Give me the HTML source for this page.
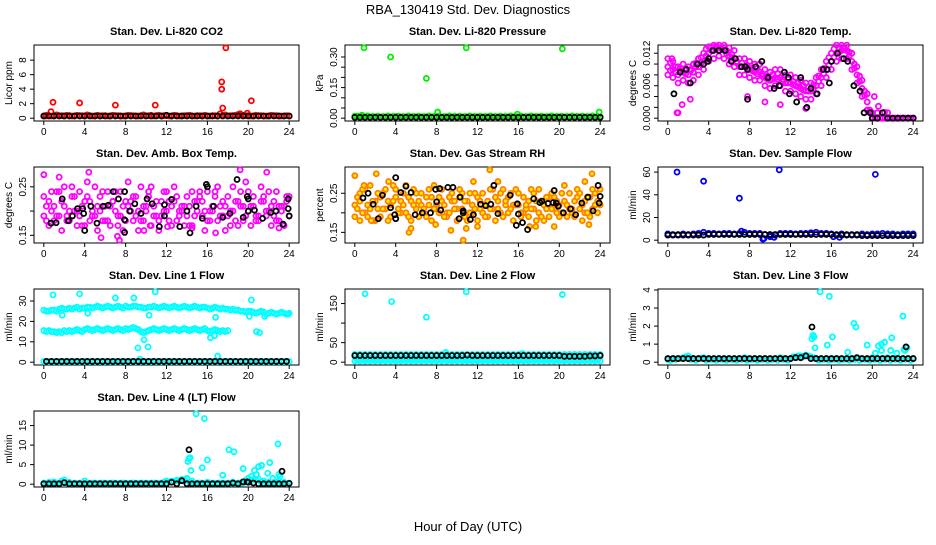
<!DOCTYPE html>
<html><head><meta charset="utf-8"><style>
body{margin:0;background:#fff;}
svg text{font-family:"Liberation Sans",sans-serif;}
</style></head><body>
<svg id="chart" width="936" height="540" xmlns="http://www.w3.org/2000/svg">
<rect width="936" height="540" fill="#fff"/>
<text x="468" y="14" font-size="13" text-anchor="middle">RBA_130419  Std. Dev. Diagnostics</text>
<text x="468" y="531" font-size="13" text-anchor="middle">Hour of Day (UTC)</text>
</svg>
<script>
const hours=[0,0.5,1,1.5,2,2.5,3,3.5,4,4.5,5,5.5,6,6.5,7,7.5,8,8.5,9,9.5,10,10.5,11,11.5,12,12.5,13,13.5,14,14.5,15,15.5,16,16.5,17,17.5,18,18.5,19,19.5,20,20.5,21,21.5,22,22.5,23,23.5,24];
const hoursB=[0.25,0.75,1.25,1.75,2.25,2.75,3.25,3.75,4.25,4.75,5.25,5.75,6.25,6.75,7.25,7.75,8.25,8.75,9.25,9.75,10.25,10.75,11.25,11.75,12.25,12.75,13.25,13.75,14.25,14.75,15.25,15.75,16.25,16.75,17.25,17.75,18.25,18.75,19.25,19.75,20.25,20.75,21.25,21.75,22.25,22.75,23.25,23.75];
const xTicks=[0,4,8,12,16,20,24];

// Panel 1 CO2
const co2Red=[0.3,0.35,0.3,0.35,0.3,0.35,0.3,0.35,0.3,0.35,0.3,0.3,0.35,0.3,0.35,0.3,0.3,0.35,0.3,0.35,0.3,0.4,0.35,0.3,0.35,0.3,0.35,0.3,0.35,0.3,0.35,0.3,0.3,0.35,0.3,0.35,0.3,0.35,0.5,0.4,0.35,0.3,0.35,0.3,0.3,0.35,0.3,0.3,0.3];
const co2RedB=[0.4,0.3,0.45,0.35,0.4,0.3,0.4,0.35,0.45,0.3,0.4,0.35,0.3,0.4,0.35,0.3,0.4,0.35,0.3,0.45,0.35,0.3,0.4,0.35,0.3,0.4,0.3,0.35,0.4,0.3,0.35,0.4,0.3,0.35,0.6,0.45,0.35,0.4,0.5,0.35,0.3,0.4,0.35,0.3,0.4,0.35,0.3,0.35];
const co2Black=[0.3,0.3,0.3,0.3,0.3,0.3,0.3,0.3,0.3,0.3,0.3,0.3,0.3,0.3,0.3,0.3,0.3,0.3,0.3,0.3,0.3,0.3,0.3,0.3,0.4,0.3,0.3,0.3,0.3,0.3,0.3,0.3,0.3,0.3,0.3,0.3,0.3,0.3,0.3,0.3,0.3,0.3,0.3,0.3,0.3,0.3,0.3,0.3,0.3];
const co2OutX=[0.2,0.7,0.9,3.5,7,10.9,17.4,17.4,17.5,17.8,19.9,20.3,19.2];
const co2OutY=[0.3,0.9,2.2,2.1,1.8,1.8,5.0,4.0,1.4,9.7,0.7,2.4,0.6];
// Panel 2 pressure
const prGreen=[0.008,0.006,0.007,0.006,0.007,0.006,0.007,0.006,0.008,0.006,0.007,0.006,0.007,0.006,0.007,0.006,0.008,0.006,0.007,0.006,0.007,0.006,0.007,0.006,0.007,0.006,0.007,0.006,0.007,0.006,0.007,0.006,0.006,0.006,0.007,0.006,0.007,0.006,0.007,0.006,0.007,0.006,0.007,0.006,0.007,0.006,0.007,0.006,0.007];
const prGreenB=[0.01,0.008,0.011,0.009,0.01,0.008,0.011,0.009,0.01,0.008,0.011,0.009,0.01,0.008,0.011,0.009,0.01,0.008,0.011,0.009,0.01,0.008,0.011,0.009,0.01,0.008,0.011,0.009,0.01,0.008,0.011,0.009,0.01,0.008,0.011,0.009,0.01,0.008,0.011,0.009,0.01,0.008,0.011,0.009,0.01,0.008,0.011,0.009];
const prBlack=[0.004,0.004,0.004,0.004,0.004,0.004,0.004,0.004,0.004,0.004,0.004,0.004,0.004,0.004,0.004,0.004,0.004,0.004,0.004,0.004,0.004,0.004,0.004,0.004,0.004,0.004,0.004,0.004,0.004,0.004,0.004,0.004,0.004,0.004,0.004,0.004,0.004,0.004,0.004,0.004,0.004,0.004,0.004,0.004,0.004,0.004,0.004,0.004,0.004];
const prOutX=[0.7,0.9,3.5,7,8.1,10.9,15.9,20.3,23.9,0];
const prOutY=[0.015,0.345,0.30,0.195,0.03,0.345,0.02,0.34,0.03,0.01];
// Panel 3 Li-820 temperature
const tpHi=[0.011,0.0105,0.0095,0.01,0.0095,0.01,0.011,0.012,0.0132,0.0135,0.0135,0.0135,0.013,0.0125,0.011,0.011,0.0105,0.01,0.01,0.009,0.0085,0.009,0.009,0.008,0.008,0.0075,0.007,0.0065,0.0065,0.0075,0.009,0.0105,0.012,0.0135,0.0135,0.0135,0.012,0.0095,0.007,0.0045,0.001,0.001,0.001,0.001,0.0,0.0,0.0,0.0,0.0];
const tpMid=[0.0095,0.009,0.008,0.0085,0.008,0.0085,0.0095,0.0105,0.012,0.0125,0.013,0.0125,0.0115,0.011,0.0095,0.0095,0.009,0.0085,0.0085,0.0075,0.007,0.0075,0.0075,0.0065,0.0065,0.006,0.0055,0.005,0.005,0.006,0.0075,0.009,0.0105,0.012,0.0125,0.0125,0.0105,0.008,0.0055,0.003,0.0,0.0,0.0,0.0,0.0,0.0,0.0,0.0,0.0];
const tpLo=[0.008,0.0075,0.0065,0.007,0.0065,0.007,0.008,0.009,0.0105,0.011,0.0115,0.011,0.01,0.0095,0.008,0.008,0.0075,0.007,0.007,0.006,0.0055,0.006,0.006,0.005,0.005,0.0045,0.004,0.0035,0.0035,0.0045,0.006,0.0075,0.009,0.0105,0.011,0.011,0.009,0.0065,0.004,0.0015,0.0,0.0,0.0,0.0,0.0,0.0,0.0,0.0,0.0];
const tpB1=[0.0088,0.0085,0.0088,0.0082,0.009,0.0102,0.0112,0.0128,0.0132,0.0133,0.0128,0.012,0.0112,0.0102,0.0095,0.0092,0.0088,0.0082,0.0078,0.0072,0.0072,0.0072,0.0068,0.0065,0.0062,0.0058,0.0052,0.005,0.0055,0.0068,0.0082,0.0098,0.0112,0.0122,0.0128,0.0115,0.0092,0.0068,0.0042,0.001,0.0,0.0,0.0,0.0,0.0,0.0,0.0,0.0];
const tpB2=[0.0102,0.0095,0.0092,0.0092,0.0088,0.0095,0.0102,0.0115,0.0125,0.0128,0.013,0.0125,0.0118,0.0105,0.0102,0.0098,0.0092,0.0092,0.0082,0.0078,0.008,0.0082,0.0072,0.0072,0.0068,0.0065,0.006,0.0058,0.0062,0.0078,0.0092,0.0112,0.0128,0.013,0.013,0.0122,0.01,0.0078,0.005,0.0015,0.0,0.0,0.0,0.0,0.0,0.0,0.0,0.0];
const tpOutX=[0.4,0.9,1.0,1.4,2.2,19.2,19.8,20.2,20.6,21.2,3.8,7.8,13.5,11.0,9.5];
const tpOutY=[0.011,0.001,0.001,0.0025,0.0035,0.001,0.0011,0.004,0.0022,0.0011,0.0105,0.004,0.0018,0.0025,0.003];
const tpBlackX=[0.6,1.2,1.8,2.2,2.9,3.5,3.9,4,4.4,5,5.6,6.2,6.6,7.2,7.6,7.8,7.8,8.6,9.2,9.8,10.4,10.9,11.4,11.8,11.9,12.6,13,13.6,14,14.6,15.2,15.6,15.8,16,16.6,17.2,17.6,18.2,18.8,19.2,19.8,21,20,20.5,21.5,22,22.5,23,23.5,24];
const tpBlackY=[0.0045,0.0085,0.009,0.0065,0.01,0.01,0.0105,0.011,0.0125,0.0125,0.0125,0.0105,0.011,0.0095,0.0095,0.009,0.0035,0.0095,0.0105,0.0075,0.0055,0.006,0.0085,0.0075,0.0045,0.003,0.0075,0.002,0.0055,0.0045,0.009,0.009,0.0065,0.0105,0.012,0.011,0.0105,0.006,0.005,0.001,0.001,0.001,0,0,0,0,0,0,0,0];
// Panel 4 ambient box temperature
const abM1=[0.19,0.22,0.18,0.24,0.21,0.20,0.23,0.19,0.17,0.22,0.25,0.20,0.18,0.21,0.24,0.19,0.22,0.20,0.23,0.18,0.21,0.25,0.19,0.22,0.20,0.17,0.23,0.21,0.19,0.24,0.20,0.22,0.18,0.21,0.25,0.19,0.23,0.20,0.22,0.18,0.24,0.21,0.19,0.23,0.20,0.22,0.18,0.21,0.19];
const abM2=[0.23,0.17,0.21,0.19,0.25,0.18,0.20,0.24,0.22,0.18,0.19,0.23,0.21,0.17,0.20,0.24,0.18,0.22,0.19,0.25,0.20,0.17,0.22,0.19,0.24,0.21,0.18,0.20,0.23,0.17,0.22,0.19,0.24,0.20,0.18,0.22,0.19,0.25,0.17,0.21,0.20,0.23,0.18,0.22,0.24,0.19,0.21,0.17,0.23];
const abM3=[0.18,0.20,0.24,0.16,0.19,0.23,0.17,0.21,0.26,0.20,0.16,0.18,0.24,0.22,0.17,0.21,0.26,0.18,0.16,0.21,0.23,0.19,0.16,0.24,0.18,0.22,0.20,0.17,0.21,0.19,0.23,0.16,0.20,0.24,0.21,0.16,0.20,0.18,0.21,0.26,0.17,0.19,0.22,0.20,0.17,0.24,0.21,0.23];
const abM4=[0.21,0.24,0.19,0.22,0.18,0.25,0.20,0.17,0.23,0.19,0.21,0.24,0.18,0.22,0.19,0.16,0.21,0.23,0.20,0.18,0.24,0.21,0.18,0.20,0.22,0.25,0.19,0.21,0.17,0.22,0.24,0.20,0.18,0.23,0.19,0.21,0.17,0.22,0.24,0.19,0.21,0.18,0.25,0.19,0.21,0.18,0.20,0.22];
const abOutX=[0,1.5,4.4,5.6,7.4,7.2,10.4,14.5,16.8,19.2,21.8,23,12.1,9.8];
const abOutY=[0.275,0.27,0.28,0.145,0.14,0.148,0.17,0.165,0.155,0.285,0.28,0.165,0.168,0.16];
const abBlackX=[0.7,1.2,1.8,2.4,2.8,3.3,3.8,3.9,4,4.6,5.2,5.8,6.3,6.8,7.3,7.9,7.9,7.9,8.4,8.9,9.5,10.1,10.6,11.3,11.8,11.8,12.5,13.3,14,14.3,14.9,15.5,15.9,16,16.6,17.5,18.2,18.9,19.5,19.9,20,20,20.6,21.4,22.2,22.7,23.4,23.9,23.9,24];
const abBlackY=[0.175,0.176,0.225,0.18,0.19,0.205,0.205,0.195,0.16,0.21,0.175,0.21,0.212,0.24,0.225,0.24,0.182,0.156,0.2,0.215,0.195,0.225,0.215,0.168,0.213,0.19,0.224,0.168,0.2,0.155,0.21,0.185,0.255,0.25,0.21,0.187,0.195,0.265,0.187,0.23,0.225,0.2,0.202,0.185,0.197,0.2,0.173,0.225,0.205,0.19];
// Panel 5 gas stream RH
const rhO1=[0.22,0.25,0.20,0.27,0.23,0.19,0.26,0.22,0.24,0.20,0.27,0.23,0.21,0.25,0.19,0.24,0.22,0.26,0.20,0.23,0.21,0.25,0.18,0.22,0.24,0.20,0.23,0.26,0.21,0.19,0.24,0.22,0.25,0.20,0.23,0.21,0.26,0.22,0.19,0.24,0.22,0.27,0.21,0.23,0.25,0.20,0.24,0.22,0.26];
const rhO2=[0.19,0.23,0.26,0.21,0.18,0.24,0.21,0.19,0.26,0.23,0.20,0.18,0.25,0.22,0.24,0.18,0.21,0.23,0.19,0.25,0.18,0.21,0.23,0.20,0.18,0.25,0.19,0.21,0.23,0.26,0.20,0.18,0.22,0.24,0.19,0.25,0.20,0.18,0.24,0.21,0.19,0.23,0.25,0.19,0.21,0.23,0.19,0.25,0.22];
const rhO3=[0.24,0.20,0.22,0.18,0.25,0.21,0.23,0.27,0.20,0.22,0.24,0.26,0.19,0.21,0.22,0.27,0.20,0.19,0.24,0.21,0.26,0.23,0.20,0.25,0.21,0.22,0.26,0.18,0.25,0.22,0.21,0.26,0.19,0.21,0.26,0.18,0.23,0.24,0.21,0.20,0.25,0.19,0.20,0.26,0.18,0.24,0.21,0.23];
const rhO4=[0.21,0.26,0.19,0.23,0.21,0.25,0.18,0.23,0.21,0.25,0.19,0.22,0.23,0.20,0.26,0.21,0.24,0.22,0.20,0.23,0.24,0.19,0.25,0.21,0.23,0.19,0.21,0.24,0.20,0.23,0.25,0.22,0.20,0.22,0.21,0.23,0.19,0.21,0.25,0.23,0.20,0.22,0.21,0.24,0.22,0.20,0.26,0.20];
const rhOutX=[0,0.5,1.6,2.1,3.3,5.3,5.5,7.9,9.4,10.6,10.9,11.6,12,13.2,14,17.1,17.7,19.5,22.5,22.9,23.2,0.9];
const rhOutY=[0.295,0.18,0.18,0.30,0.28,0.15,0.16,0.17,0.155,0.13,0.16,0.28,0.165,0.31,0.28,0.165,0.165,0.165,0.28,0.17,0.30,0.27];
const rhBlackX=[0.8,1.3,1.8,2.3,2.7,3.5,3.9,4,4,4.5,5,5.5,5.9,6.6,7.4,7.9,8,8.3,8.4,9.1,9.6,10.2,10.3,10.6,10.6,11.3,11.6,12.3,12.8,13.3,13.6,14,15.2,15.8,15.9,16,16.4,16.9,17.5,18.1,18.3,18.9,19.4,19.5,19.7,19.9,20.4,21.1,21.6,22.2,22.8,23.3,23.8,23.9,24];
const rhBlackY=[0.238,0.25,0.222,0.185,0.245,0.213,0.195,0.185,0.29,0.252,0.268,0.252,0.195,0.2,0.2,0.26,0.228,0.262,0.207,0.265,0.265,0.185,0.24,0.2,0.205,0.183,0.195,0.222,0.218,0.222,0.27,0.198,0.245,0.168,0.223,0.197,0.175,0.157,0.236,0.226,0.23,0.224,0.226,0.257,0.225,0.217,0.2,0.21,0.195,0.225,0.24,0.205,0.27,0.225,0.242];
// Panel 6 sample flow
const sfBlue=[5.5,5,5,5.5,5,5.5,6,7,6,6,5.5,6,6,5.5,6,7,6,6,6,5,4,4.5,6,6,6,5.5,6,6,6.5,7,6,6,5.5,5,5.5,5,5,5,5.5,5,5.5,5.5,6,5.5,5.5,5,5.5,5.5,5.5];
const sfBlack=[4.5,4.5,4.5,4.5,4.5,4.5,4.5,4.5,5,5,5,5,5,5,5,5,5,5,5,5,5,5,5,5,5,5,5,5,5,5,5,5,5,4.5,4.5,4.5,4.5,4.5,4,4,4,4,4,4,4,4,4,4,4];
const sfOutX=[0.9,3.5,7,10.9,20.3,9.3,9.4,10,10.4,16.2,16.8,7.2];
const sfOutY=[60,52,37,62,58,1,1.5,3,2.5,3,2.5,8];
// Panel 7 line 1 flow
const l1Top=[25.5,25,25.5,26,26,26.5,26.5,26,26.5,27,27,27,27,27,27,27,27.5,27,27.5,27,26.5,27,27,27,27,27,27,27,27,27,27,27,26.5,26.5,26.5,26.5,26,26,25.5,25,25,24.5,24.5,24.5,24,24,24,24,24];
const l1TopB=[25,25.5,25,26.5,26,26,27,26.5,27,26.5,27.5,26.5,27.5,26.5,27.5,26.5,27,27.5,27,26.5,27,27.5,26.5,27.5,26.5,27.5,26.5,27.5,26.5,27.5,26.5,27,26,27,26,26,25.5,25.5,25,24.5,25,24,25,23.5,24.5,23.5,24.5,23.5];
const l1Mid=[15.5,15.5,15,15,15.5,15.5,15.5,15.5,16,16,16,16,16,16,16,16,16.5,16.5,16.5,15,15,16,16,16,16,16,16,16,16,16,16,16,15.5,15.5,15.5,15.5,15.5];
const l1MidB=[15,15,14.5,14.5,15,15,16,15,16.5,15.5,16.5,15.5,16.5,15.5,16.5,15.5,16,17,16,14.5,15.5,16.5,15.5,16.5,15.5,16.5,15.5,16.5,15.5,16.5,15.5,16.5,15,16,15,15];
const l1Low=[0.3,0.3,0.3,0.3,0.3,0.3,0.3,0.3,0.3,0.3,0.3,0.3,0.3,0.3,0.3,0.3,0.3,0.3,0.3,0.3,0.3,0.3,0.3,0.3,0.3,0.3,0.3,0.3,0.3,0.3,0.3,0.3,0.3,0.3,0.3,0.3,0.3,0.3,0.3,0.3,0.3,0.3,0.3,0.3,0.3,0.3,0.3,0.3,0.3];
const l1Black=[0.4,0.4,0.4,0.4,0.4,0.4,0.4,0.4,0.4,0.4,0.4,0.4,0.4,0.4,0.4,0.4,0.4,0.4,0.4,0.4,0.4,0.4,0.4,0.4,0.4,0.4,0.4,0.4,0.4,0.4,0.4,0.4,0.4,0.4,0.4,0.4,0.4,0.4,0.4,0.4,0.4,0.4,0.4,0.4,0.4,0.4,0.4,0.4];
const l1OutX=[0.9,3.5,7,8.8,10.9,1.8,4.3,10.3,9.2,9.8,10.2,16.3,16.7,16.8,17.0,20.3,20.1,20.8,21.1,21.6,23.9,9.4];
const l1OutY=[33,33.5,31.5,31.5,34.5,23,24,23,7,11,7.5,12,13,22,3,30.5,22.5,15,14.5,22.5,23.5,1.5];
// Panel 8 line 2 flow
const l2CyanA=[3,3,3,3,3,3,3,3,3,3,3,3,3,3,3,3,3,3,3,3,3,3,3,3,3,3,3,3,3,3,3,3,3,3,3,3,3,3,3,3,3,3,3,3,3,3,3,3,3];
const l2CyanB=[12,12,12,12,12,12,12,12,12,12,12,12,12,12,12,12,12,12,12,12,12,12,12,12,12,12,12,12,12,12,12,12,12,12,12,12,12,12,12,12,12,12,12,12,12,12,12,12];
const l2CyanD=[6,6,6,6,6,6,6,6,6,6,6,6,6,6,6,6,6,6,6,6,6,6,6,6,6,6,6,6,6,6,6,6,6,6,6,6,6,6,6,6,6,6,6,6,6,6,6,6];
const l2CyanC=[20,20,20,20,20,20,20,20,20,20,20,20,20,20,20,20,20,20,20,20,20,20,20,20,20,20,20,20,20,20,20,20,20,20,20,20,20,20,20,20,20,20,20,20,20,20,20,20,20];
const l2Black=[17,17,17,17,17,17,17,17,17,17,17,17,17,17,17,17,17,17,17,17,17,17,18,17,17,17,17,17,17,17,17,17,17,17,17,17,17,17,17,17,17,15,15,15,15,15,16,16,17];
const l2OutX=[1,3.6,7,10.9,20.3,8.9,16.4];
const l2OutY=[175,155,115,180,173,25,22];
// Panel 9 line 3 flow
const l3Cyan=[0.15,0.2,0.2,0.25,0.35,0.2,0.2,0.25,0.15,0.15,0.2,0.15,0.2,0.15,0.2,0.25,0.15,0.2,0.15,0.2,0.15,0.2,0.25,0.15,0.2,0.3,0.35,0.4,0.3,0.2,0.15,0.2,0.15,0.2,0.15,0.2,0.15,0.2,0.2,0.15,0.25,0.2,0.2,0.25,0.2,0.2,0.2,0.2,0.2];
const l3CyanB=[0.1,0.15,0.2,0.3,0.15,0.1,0.2,0.1,0.15,0.1,0.15,0.1,0.15,0.1,0.15,0.1,0.15,0.1,0.15,0.1,0.15,0.1,0.15,0.1,0.3,0.35,0.3,0.35,0.25,0.1,0.15,0.1,0.15,0.1,0.15,0.1,0.15,0.1,0.15,0.1,0.15,0.1,0.15,0.1,0.15,0.1,0.15,0.1];
const l3Black=[0.2,0.2,0.2,0.2,0.2,0.2,0.2,0.2,0.2,0.2,0.2,0.2,0.2,0.2,0.2,0.2,0.2,0.2,0.2,0.2,0.2,0.2,0.2,0.2,0.2,0.25,0.25,0.35,0.2,0.2,0.2,0.2,0.2,0.2,0.2,0.2,0.2,0.25,0.2,0.2,0.2,0.2,0.2,0.2,0.2,0.2,0.2,0.2,0.2];
const l3OutX=[14.1,14.2,14.3,14.4,14.9,15.6,15.8,16.1,17.6,18.2,18.4,19.5,20.3,20.6,20.9,20.9,21.2,21.8,21.9,22.4,23.0,23.1,23.2,23.4];
const l3OutY=[1.3,1.5,1.4,0.8,3.9,0.95,3.65,1.4,0.55,2.15,1.95,0.95,0.5,0.9,1.0,0.65,1.1,0.65,1.35,0.5,2.55,0.7,0.65,0.8];
const l3BlackOutX=[14.1,23.3];
const l3BlackOutY=[1.95,0.85];
// Panel 10 line 4 flow
const l4Cyan=[0.3,0.5,0.6,0.3,1.1,0.5,0.3,0.3,0.8,0.3,0.3,0.3,0.3,0.3,0.3,0.3,0.3,0.3,0.3,0.3,0.3,0.3,0.3,0.3,0.8,0.8,1.0,1.2,1.5,0.8,0.3,0.3,0.5,0.3,0.3,0.3,0.3,0.5,0.3,0.3,1.5,1.2,1.3,0.8,0.5,0.5,0.8,0.5,0.3];
const l4CyanB=[0.2,0.3,0.2,0.8,0.3,0.2,0.2,0.3,0.2,0.3,0.2,0.3,0.2,0.3,0.2,0.3,0.2,0.3,0.2,0.3,0.2,0.3,0.2,0.5,0.6,0.7,0.9,1.2,0.5,0.2,0.3,0.2,0.3,0.2,0.3,0.2,0.3,0.2,0.3,1.0,0.8,1.0,0.6,0.4,0.3,0.6,0.4,0.2];
const l4Black=[0.1,0.1,0.1,0.1,0.4,0.1,0.1,0.1,0.1,0.1,0.1,0.1,0.1,0.1,0.1,0.1,0.1,0.1,0.1,0.1,0.1,0.1,0.1,0.1,0.1,0.5,0.1,0.9,0.1,0.1,0.1,0.1,0.1,0.1,0.1,0.1,0.1,0.3,0.1,0.6,0.5,0.3,0.1,0.1,0.1,0.1,0.1,0.1,0.2];
const l4OutX=[14.1,14.2,14.3,14.4,14.9,15.5,15.7,16,17.5,18.1,18.6,19.5,20.3,20.6,20.8,21.0,21.3,21.9,22.1,22.4,22.9,23.0,23.1];
const l4OutY=[5.8,6.5,6.8,3.5,18,4.2,16.8,6.2,2.3,8.8,8.3,4.0,2.0,3.5,2.5,4.5,4.8,2.8,5.5,1.5,10.3,2.5,2.0];
const l4BlackOutX=[14.2,23.3,19.9];
const l4BlackOutY=[8.8,3.3,0.6];

const svg=document.getElementById('chart');
const NS='http://www.w3.org/2000/svg';
const colLeft=[34,345,658], boxW=265, rowTitle=[35,157,279,401];
function mk(tag,attrs,parent){const e=document.createElementNS(NS,tag);for(const k in attrs)e.setAttribute(k,attrs[k]);(parent||svg).appendChild(e);return e;}
function panel(col,row,name,title,ylab,ymin,ymax,yTicks,yLabels,series){
  const g=mk('g',{});
  
  
  const L=colLeft[col],T=rowTitle[row]+10,H=76,B=T+H;
  const xs=v=>L+(v+0.96)/25.92*boxW;
  const ys=v=>{const r=ymax-ymin;return B-(v-(ymin-0.04*r))/(r*1.08)*H;};
  const t=mk('text',{x:L+boxW/2,y:rowTitle[row],'font-size':11,'font-weight':'bold','text-anchor':'middle'},g);
  t.textContent=title;
  
  
  const box=mk('rect',{x:L,y:T,width:boxW,height:H,fill:'none',stroke:'#000','stroke-width':1},g);
  
  
  xTicks.forEach(v=>{const x=xs(v);mk('line',{x1:x,x2:x,y1:B,y2:B+4,stroke:'#000'},g);
    const tl=mk('text',{x:x,y:B+14,'font-size':10,'text-anchor':'middle'},g);tl.textContent=v;
    
    });
  mk('line',{x1:xs(0),x2:xs(24),y1:B,y2:B,stroke:'#000'},g);
  yTicks.forEach((v,i)=>{const y=ys(v);mk('line',{x1:L-4,x2:L,y1:y,y2:y,stroke:'#000'},g);
    if(yLabels[i]){const tl=mk('text',{x:L-8,y:y,'font-size':10,'text-anchor':'middle',transform:`rotate(-90 ${L-8} ${y})`},g);tl.textContent=yLabels[i];
    
    }});
  const yl=mk('text',{x:L-22,y:T+H/2,'font-size':10,'text-anchor':'middle',transform:`rotate(-90 ${L-22} ${T+H/2})`},g);
  yl.textContent=ylab;
  
  
  series.forEach(s=>{for(let i=0;i<s.y.length;i++){
    const c=mk('circle',{cx:xs(s.x[i]),cy:ys(s.y[i]),r:2.5,fill:s.f||'none',stroke:s.c,'stroke-width':1.8},g);
    
    }});
}
const R='#ff0000',K='#000000',G='#00ee00',M='#ff00ff',C='#00ffff',B2='#0000ff',O='#ff7f00';
panel(0,0,'panel-co2','Stan. Dev. Li-820 CO2','Licor ppm',0,9.7,[0,2,4,6,8],['0','2','4','6','8'],
 [{c:R,x:hours,y:co2Red},{c:R,x:hoursB,y:co2RedB},{c:R,x:co2OutX,y:co2OutY},{c:K,x:hours,y:co2Black}]);
panel(1,0,'panel-pressure','Stan. Dev. Li-820 Pressure','kPa',0,0.345,[0,0.05,0.1,0.15,0.2,0.25,0.3],['0.00','','','0.15','','','0.30'],
 [{c:G,x:hours,y:prGreen},{c:G,x:hoursB,y:prGreenB},{c:G,x:prOutX,y:prOutY},{c:K,x:hours,y:prBlack}]);
panel(2,0,'panel-li820-temp','Stan. Dev. Li-820 Temp.','degrees C',0,0.013,[0,0.002,0.004,0.006,0.008,0.01,0.012],['0.000','','','0.006','','','0.012'],
 [{c:M,x:hours,y:tpHi},{c:M,x:hours,y:tpMid},{c:M,x:hours,y:tpLo},{c:M,x:hoursB,y:tpB1},{c:M,x:hoursB,y:tpB2},{c:M,x:tpOutX,y:tpOutY},{c:K,x:tpBlackX,y:tpBlackY}]);
panel(0,1,'panel-amb-box-temp','Stan. Dev. Amb. Box Temp.','degrees C',0.14,0.285,[0.15,0.2,0.25],['0.15','','0.25'],
 [{c:M,x:hours,y:abM1},{c:M,x:hours,y:abM2},{c:M,x:hoursB,y:abM3},{c:M,x:hoursB,y:abM4},{c:M,x:abOutX,y:abOutY},{c:K,x:abBlackX,y:abBlackY}]);
panel(1,1,'panel-gas-rh','Stan. Dev. Gas Stream RH','percent',0.13,0.31,[0.15,0.2,0.25],['0.15','','0.25'],
 [{c:O,f:'#ffee00',x:hours,y:rhO1},{c:O,f:'#ffee00',x:hours,y:rhO2},{c:O,f:'#ffee00',x:hoursB,y:rhO3},{c:O,f:'#ffee00',x:hoursB,y:rhO4},{c:O,f:'#ffee00',x:rhOutX,y:rhOutY},{c:K,x:rhBlackX,y:rhBlackY}]);
panel(2,1,'panel-sample-flow','Stan. Dev. Sample Flow','ml/min',0,62,[0,20,40,60],['0','20','40','60'],
 [{c:B2,x:hours,y:sfBlue},{c:B2,x:sfOutX,y:sfOutY},{c:K,x:hours,y:sfBlack}]);
panel(0,2,'panel-line1-flow','Stan. Dev. Line 1 Flow','ml/min',0,34.5,[0,10,20,30],['0','10','20','30'],
 [{c:C,x:hours,y:l1Top},{c:C,x:hoursB,y:l1TopB},{c:C,x:hours,y:l1Mid},{c:C,x:hoursB,y:l1MidB},{c:C,x:hours,y:l1Low},{c:C,x:l1OutX,y:l1OutY},{c:K,x:hoursB,y:l1Black}]);
panel(1,2,'panel-line2-flow','Stan. Dev. Line 2 Flow','ml/min',0,180,[0,50,100,150],['0','50','','150'],
 [{c:C,x:hours,y:l2CyanA},{c:C,x:hoursB,y:l2CyanB},{c:C,x:hoursB,y:l2CyanD},{c:C,x:hours,y:l2CyanC},{c:C,x:l2OutX,y:l2OutY},{c:K,x:hours,y:l2Black}]);
panel(2,2,'panel-line3-flow','Stan. Dev. Line 3 Flow','ml/min',0,3.9,[0,1,2,3,4],['0','1','2','3','4'],
 [{c:C,x:hours,y:l3Cyan},{c:C,x:hoursB,y:l3CyanB},{c:C,x:l3OutX,y:l3OutY},{c:K,x:hours,y:l3Black},{c:K,x:l3BlackOutX,y:l3BlackOutY}]);
panel(0,3,'panel-line4-flow','Stan. Dev. Line 4 (LT) Flow','ml/min',0,18,[0,5,10,15],['0','5','10','15'],
 [{c:C,x:hours,y:l4Cyan},{c:C,x:hoursB,y:l4CyanB},{c:C,x:l4OutX,y:l4OutY},{c:K,x:hours,y:l4Black},{c:K,x:l4BlackOutX,y:l4BlackOutY}]);
</script>
</body></html>
